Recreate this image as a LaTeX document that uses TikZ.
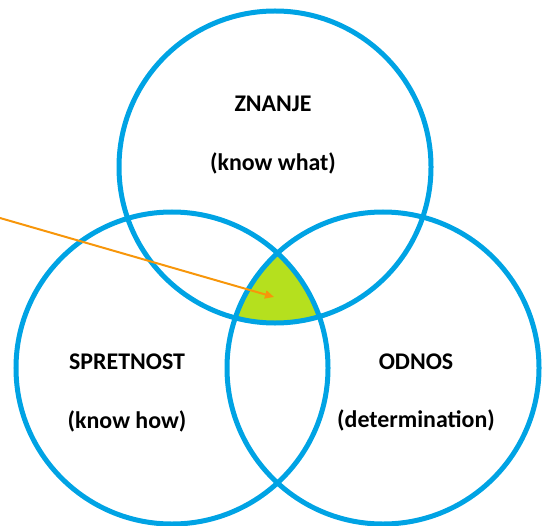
\documentclass[tikz,border=0pt]{standalone}
\usepackage{fontspec}
\setmainfont{Carlito}
\usetikzlibrary{arrows.meta}

\definecolor{ringblue}{RGB}{0,163,228}
\definecolor{corelime}{RGB}{181,224,30}
\definecolor{pointer}{RGB}{247,150,10}

\tikzset{
	ring/.style={circle, draw=ringblue, line width=5bp, minimum size=312bp, inner sep=0pt},
	label/.style={font=\fontsize{24}{28}\selectfont\bfseries, anchor=base, inner sep=0pt}
}

\begin{document}
\begin{tikzpicture}[x=1bp,y=-1bp]
	\useasboundingbox (0,0) rectangle (542,526);
	% centres of the three sets
	\coordinate (cz) at (275,167);
	\coordinate (cs) at (172,368);
	\coordinate (co) at (383,368);
	% common part of all three
	\begin{scope}
		\clip (cz) circle[radius=156bp];
		\clip (cs) circle[radius=156bp];
		\fill[corelime] (co) circle[radius=156bp];
	\end{scope}
	\node[ring] (znanje) at (cz) {};
	\node[ring] (spretnost) at (cs) {};
	\node[ring] (odnos) at (co) {};
	\node[label] (zt) at (273,112) {ZNANJE};
	\node[label] (zs) at (273,171) {(know what)};
	\node[label] (st) at (127,369) {SPRETNOST};
	\node[label] (ss) at (127,428) {(know how)};
	\node[label] (ot) at (416,369) {ODNOS};
	\node[label] (os) at (416,427) {(determination)};
	% pointer into the core
	\coordinate (from) at (0,218);
	\coordinate (core) at (274,297);
	\draw[pointer, line width=2bp, -{Triangle[length=9bp,width=8bp]}] (from) -- (core);
\end{tikzpicture}
\end{document}
